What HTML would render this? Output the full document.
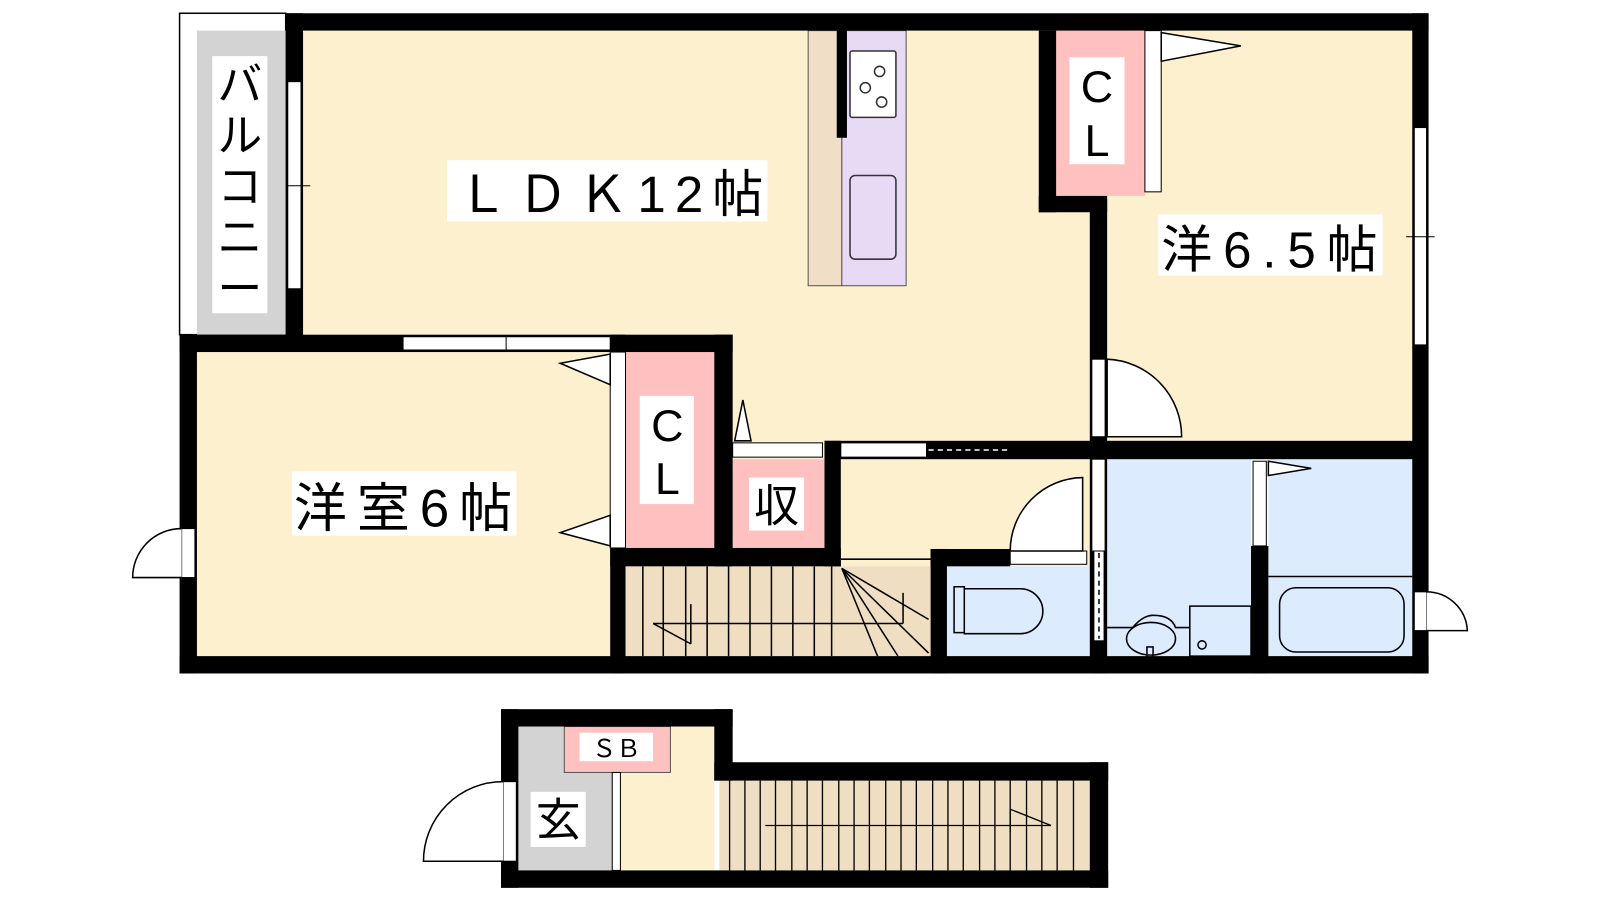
<!DOCTYPE html>
<html><head><meta charset="utf-8"><style>
html,body{margin:0;padding:0;background:#fff;width:1600px;height:900px;overflow:hidden}
svg{display:block}
svg text{font-family:"Liberation Sans","Noto Sans CJK JP",sans-serif}
</style></head><body>
<svg width="1600" height="900" viewBox="0 0 1568 882" preserveAspectRatio="none" xmlns="http://www.w3.org/2000/svg">
<!-- floors -->
<rect x="176" y="13" width="104" height="315" fill="#fff" stroke="#000" stroke-width="1.5"/>
<rect x="193" y="30" width="87" height="298" fill="#d3d3d3"/>
<rect x="297" y="30" width="1088" height="402" fill="#fdf0cf"/>
<rect x="193" y="345" width="420" height="298" fill="#fdf0cf"/>
<rect x="718" y="345" width="350" height="105" fill="#fdf0cf"/>
<rect x="824" y="450" width="244" height="105" fill="#fdf0cf"/>
<!-- kitchen -->
<rect x="792" y="30" width="33" height="250" fill="#f0dfc6" stroke="#555" stroke-width="1"/>
<rect x="825" y="30" width="63" height="250" fill="#e8d9f4" stroke="#555" stroke-width="1"/>
<rect x="833" y="50" width="45" height="65" fill="#fff" stroke="#333" stroke-width="1.5" rx="2"/>
<circle cx="862" cy="70" r="5" fill="none" stroke="#333" stroke-width="1.5"/>
<circle cx="848" cy="86" r="5" fill="none" stroke="#333" stroke-width="1.5"/>
<circle cx="864" cy="100" r="5" fill="none" stroke="#333" stroke-width="1.5"/>
<rect x="833" y="172" width="45" height="82" rx="5" fill="none" stroke="#333" stroke-width="1.5"/>
<rect x="820" y="30" width="10" height="105" fill="#000"/>
<!-- closets -->
<rect x="613" y="345" width="87" height="192" fill="#ffc0c0"/>
<rect x="718" y="450" width="90" height="87" fill="#ffc0c0"/>
<rect x="1035" y="30" width="87" height="162" fill="#ffc0c0"/>
<!-- stairs -->
<rect x="613" y="555" width="299" height="88" fill="#efdec1"/>
<g stroke="#000" stroke-width="1.5">
<line x1="630" y1="555" x2="630" y2="643"/><line x1="650" y1="555" x2="650" y2="643"/><line x1="672" y1="555" x2="672" y2="643"/><line x1="693" y1="555" x2="693" y2="643"/><line x1="714" y1="555" x2="714" y2="643"/><line x1="735" y1="555" x2="735" y2="643"/><line x1="756" y1="555" x2="756" y2="643"/><line x1="777" y1="555" x2="777" y2="643"/><line x1="798" y1="555" x2="798" y2="643"/><line x1="815" y1="555" x2="815" y2="643"/>
<line x1="825" y1="557" x2="880" y2="643"/><line x1="825" y1="557" x2="860" y2="643"/><line x1="825" y1="557" x2="910" y2="640"/><line x1="825" y1="557" x2="910" y2="607"/>
<line x1="824" y1="548" x2="912" y2="548"/>
<line x1="640" y1="611" x2="885" y2="611"/><line x1="885" y1="581" x2="885" y2="611"/>
<line x1="640" y1="611" x2="677" y2="631"/><line x1="677" y1="592" x2="677" y2="631"/>
</g>
<!-- toilet / wash / bath -->
<rect x="928" y="555" width="140" height="88" fill="#dcebfe"/>
<rect x="1085" y="450" width="141" height="193" fill="#dcebfe"/>
<rect x="1243" y="450" width="141" height="193" fill="#dcebfe"/>
<g fill="none" stroke="#000" stroke-width="1.5">
<path d="M935 575 h10 v45 h-10z M945 577 h55 a22 22 0 0 1 0 44 h-55z"/>
<line x1="1243" y1="565" x2="1384" y2="565"/>
<rect x="1254" y="576" width="122" height="63" rx="16"/>
<rect x="1166" y="594" width="60" height="49"/>
<circle cx="1178" cy="632" r="4"/>
<path d="M1110 615 h-25 M1110 615 q10 -12 20 -12 q18 0 22 12 h14"/>
<ellipse cx="1128" cy="626" rx="24" ry="16"/>
<rect x="1124" y="634" width="6" height="10"/>
</g>
<!-- genkan -->
<rect x="508" y="712" width="192" height="141" fill="#fdf0cf"/>
<rect x="508" y="712" width="92" height="141" fill="#d3d3d3"/>
<rect x="553" y="712" width="104" height="45" fill="#ffc0c0" stroke="#555" stroke-width="1"/>
<rect x="600" y="757" width="8" height="96" fill="#fff" stroke="#000" stroke-width="1"/>
<rect x="705" y="765" width="363" height="88" fill="#efdec1"/>
<g stroke="#000" stroke-width="1.3">
<line x1="715" y1="765" x2="715" y2="853"/><line x1="730" y1="765" x2="730" y2="853"/><line x1="745" y1="765" x2="745" y2="853"/><line x1="760" y1="765" x2="760" y2="853"/><line x1="776" y1="765" x2="776" y2="853"/><line x1="791" y1="765" x2="791" y2="853"/><line x1="806" y1="765" x2="806" y2="853"/><line x1="822" y1="765" x2="822" y2="853"/><line x1="837" y1="765" x2="837" y2="853"/><line x1="852" y1="765" x2="852" y2="853"/><line x1="868" y1="765" x2="868" y2="853"/><line x1="883" y1="765" x2="883" y2="853"/><line x1="898" y1="765" x2="898" y2="853"/><line x1="914" y1="765" x2="914" y2="853"/><line x1="929" y1="765" x2="929" y2="853"/><line x1="944" y1="765" x2="944" y2="853"/><line x1="960" y1="765" x2="960" y2="853"/><line x1="975" y1="765" x2="975" y2="853"/><line x1="990" y1="765" x2="990" y2="853"/><line x1="1006" y1="765" x2="1006" y2="853"/><line x1="1021" y1="765" x2="1021" y2="853"/><line x1="1036" y1="765" x2="1036" y2="853"/><line x1="1052" y1="765" x2="1052" y2="853"/>
<line x1="750" y1="809" x2="1030" y2="809"/><line x1="990" y1="793" x2="1030" y2="809"/><line x1="990" y1="793" x2="990" y2="815"/>
</g>
<g fill="#000">
<rect x="491" y="695" width="227" height="17"/><rect x="491" y="695" width="17" height="175"/><rect x="491" y="853" width="595" height="17"/>
<rect x="700" y="695" width="18" height="70"/><rect x="700" y="747" width="386" height="18"/><rect x="1068" y="747" width="18" height="123"/>
</g>
<rect x="493" y="766" width="13" height="78" fill="#fff" stroke="#000" stroke-width="1"/>
<path d="M493 766 A78 78 0 0 0 415 844 H493" fill="#fff" stroke="#000" stroke-width="1.5"/>
<!-- walls main -->
<g fill="#000">
<rect x="280" y="13" width="1120" height="17"/>
<rect x="1384" y="13" width="16" height="647"/>
<rect x="176" y="643" width="1224" height="17"/>
<rect x="176" y="328" width="17" height="332"/>
<rect x="280" y="13" width="17" height="317"/>
<rect x="176" y="328" width="437" height="17"/>
<rect x="598" y="328" width="120" height="17"/>
<rect x="598" y="537" width="226" height="18"/>
<rect x="598" y="537" width="15" height="123"/>
<rect x="700" y="328" width="18" height="227"/>
<rect x="808" y="432" width="16" height="123"/>
<rect x="808" y="432" width="577" height="18"/>
<rect x="912" y="538" width="16" height="122"/>
<rect x="912" y="538" width="78" height="17"/>
<rect x="1068" y="195" width="17" height="465"/>
<rect x="1018" y="30" width="17" height="178"/>
<rect x="1018" y="192" width="67" height="16"/>
<rect x="1226" y="535" width="17" height="125"/>
</g>
<!-- windows / openings -->
<g fill="#fff" stroke="#000" stroke-width="1">
<rect x="282" y="80" width="13" height="203"/>
<rect x="395" y="330" width="203" height="13"/>
<rect x="1386" y="125" width="12" height="213"/>
<rect x="598" y="345" width="15" height="192"/>
<rect x="718" y="434" width="88" height="14"/>
<rect x="824" y="434" width="84" height="14"/>
<rect x="908" y="434" width="82" height="14" fill="#000"/>
<rect x="1122" y="30" width="16" height="158"/>
<rect x="1070" y="352" width="13" height="76"/>
<rect x="1070" y="450" width="13" height="90"/>
<rect x="1072" y="540" width="10" height="88"/>
<rect x="1228" y="452" width="13" height="83"/>
<rect x="990" y="540" width="75" height="13"/>
<rect x="178" y="518" width="13" height="48"/>
<rect x="1386" y="580" width="12" height="38"/>
</g>
<line x1="910" y1="441" x2="990" y2="441" stroke="#fff" stroke-width="1.5" stroke-dasharray="5,4"/>
<line x1="1077" y1="542" x2="1077" y2="626" stroke="#000" stroke-width="1.5" stroke-dasharray="5,4"/>
<line x1="496" y1="330" x2="496" y2="343" stroke="#000"/>
<line x1="280" y1="182" x2="304" y2="182" stroke="#000"/>
<line x1="1378" y1="232" x2="1406" y2="232" stroke="#000"/>
<!-- door arcs -->
<g fill="#fff" stroke="#000" stroke-width="1.5">
<path d="M1085 352 A76 76 0 0 1 1158 428 H1085Z"/>
<path d="M1061 468 A72 72 0 0 0 990 540 H1061Z"/>
<path d="M178 518 A48 48 0 0 0 130 566 H178" />
<path d="M1398 580 A40 40 0 0 1 1438 618 H1398"/>
<path d="M598 347 L549 356 L598 377Z"/>
<path d="M598 535 L549 522 L598 505Z"/>
<path d="M720 432 L728 392 L736 432Z"/>
<path d="M1138 32 L1216 45 L1138 60Z"/>
<path d="M1243 452 L1285 459 L1243 466Z"/>
</g>
<!-- labels -->
<rect x="208" y="55" width="54" height="252" fill="#fff"/>
<text font-size="44" x="235" y="98" text-anchor="middle">バ</text>
<text font-size="44" x="235" y="148" text-anchor="middle">ル</text>
<text font-size="44" x="235" y="198" text-anchor="middle">コ</text>
<text font-size="44" x="235" y="248" text-anchor="middle">ニ</text>
<text font-size="44" x="235" y="298" text-anchor="middle">ー</text>
<rect x="438" y="157" width="314" height="60" fill="#fff"/>
<text font-size="50" x="448" y="208" textLength="300">ＬＤＫ12帖</text>
<rect x="1135" y="210" width="220" height="60" fill="#fff"/>
<text font-size="50" x="1138" y="262" textLength="212">洋6.5帖</text>
<rect x="286" y="462" width="220" height="63" fill="#fff"/>
<text font-size="52" x="288" y="516" textLength="214">洋室6帖</text>
<rect x="627" y="388" width="53" height="106" fill="#fff"/>
<text font-size="44" x="654" y="432" text-anchor="middle">C</text>
<text font-size="44" x="654" y="484" text-anchor="middle">L</text>
<rect x="1048" y="56" width="54" height="105" fill="#fff"/>
<text font-size="44" x="1075" y="100" text-anchor="middle">C</text>
<text font-size="44" x="1075" y="153" text-anchor="middle">L</text>
<rect x="734" y="468" width="54" height="52" fill="#fff"/>
<text font-size="44" x="761" y="511" text-anchor="middle">収</text>
<rect x="568" y="718" width="72" height="28" fill="#fff"/>
<text font-size="24" x="604" y="742" text-anchor="middle">ＳＢ</text>
<rect x="520" y="776" width="54" height="54" fill="#fff"/>
<text font-size="44" x="547" y="819" text-anchor="middle">玄</text>
</svg>
</body></html>
